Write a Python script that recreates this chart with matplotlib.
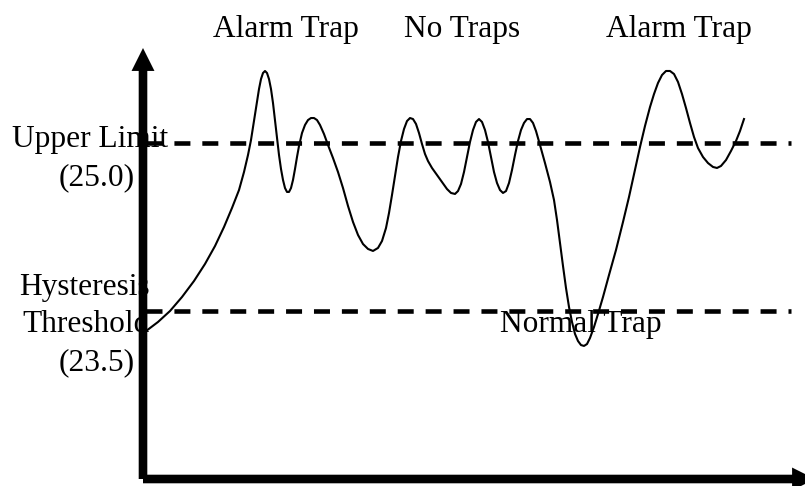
import numpy as np
import matplotlib
matplotlib.use("Agg")
import matplotlib.pyplot as plt
from matplotlib.patches import FancyArrowPatch, ArrowStyle

plt.rcParams['font.family'] = ['Liberation Serif', 'DejaVu Serif']

# temperature trace (time, temperature)
time_pts = [3, 15, 27, 39, 51, 62, 72, 81, 89, 96,
            101, 105, 108, 111, 114, 116, 118, 120, 122, 124,
            126, 128, 130, 132, 134, 136, 138, 140, 142, 144,
            146, 148, 150, 152, 154, 156, 159, 162, 165, 168,
            171, 174, 177, 181, 185, 190, 195, 200, 205, 210,
            215, 220, 225, 230, 235, 239, 243, 246, 249, 252,
            255, 258, 261, 264, 267, 270, 273, 276, 279, 282,
            285, 289, 294, 299, 304, 308, 312, 315, 318, 321,
            324, 327, 330, 333, 336, 339, 342, 345, 348, 351,
            354, 357, 360, 363, 366, 369, 372, 375, 378, 381,
            384, 387, 390, 393, 397, 402, 407, 411, 414, 417,
            420, 423, 426, 429, 432, 435, 438, 441, 444, 447,
            451, 455, 460, 466, 473, 480, 486, 492, 497, 502,
            507, 511, 515, 519, 523, 527, 531, 535, 539, 543,
            547, 551, 555, 560, 565, 570, 574, 578, 583, 588,
            593, 597, 601]
temp_pts = [23.321, 23.402, 23.500, 23.625, 23.768, 23.920, 24.080, 24.250, 24.420, 24.580,
            24.741, 24.893, 25.027, 25.196, 25.366, 25.482, 25.571, 25.625, 25.643, 25.625,
            25.571, 25.482, 25.357, 25.205, 25.045, 24.893, 24.768, 24.670, 24.598, 24.563,
            24.563, 24.598, 24.670, 24.768, 24.875, 24.973, 25.089, 25.161, 25.205, 25.223,
            25.223, 25.205, 25.161, 25.080, 24.982, 24.866, 24.741, 24.598, 24.438, 24.295,
            24.179, 24.098, 24.054, 24.036, 24.063, 24.125, 24.241, 24.375, 24.536, 24.705,
            24.875, 25.018, 25.125, 25.196, 25.223, 25.214, 25.170, 25.089, 24.991, 24.902,
            24.839, 24.777, 24.714, 24.652, 24.589, 24.554, 24.545, 24.571, 24.634, 24.741,
            24.875, 25.009, 25.116, 25.188, 25.214, 25.188, 25.116, 25.009, 24.875, 24.741,
            24.643, 24.580, 24.554, 24.571, 24.643, 24.759, 24.893, 25.018, 25.116, 25.179,
            25.214, 25.214, 25.179, 25.107, 24.982, 24.821, 24.652, 24.491, 24.313, 24.107,
            23.902, 23.705, 23.536, 23.402, 23.295, 23.232, 23.196, 23.188, 23.205, 23.259,
            23.357, 23.473, 23.625, 23.821, 24.045, 24.295, 24.518, 24.759, 24.964, 25.152,
            25.321, 25.437, 25.536, 25.607, 25.643, 25.643, 25.616, 25.545, 25.437, 25.312,
            25.179, 25.054, 24.955, 24.875, 24.821, 24.786, 24.777, 24.795, 24.848, 24.929,
            25.018, 25.107, 25.214]

upper_limit = 25.0
hyst_threshold = 23.5
base_temp = 22.0
line_end = 648

top_labels = ['Alarm Trap', 'No Traps', 'Alarm Trap']
top_label_t = [143, 319.5, 535.5]

fig = plt.figure(figsize=(8.05, 4.86), dpi=100)
ax = fig.add_axes([0, 0, 1, 1])
ax.set_xlim(-143, 662)
ax.set_ylim(21.9375, 26.2768)
ax.axis('off')

fs = 22.6
for lab, t in zip(top_labels, top_label_t):
    ax.text(t, 25.946, lab, fontsize=fs, ha='center', va='baseline', zorder=1)

ax.text(-53, 24.964, 'Upper Limit', fontsize=fs, ha='center', va='baseline', zorder=1)
ax.text(-46, 24.625, '(%.1f)' % upper_limit, fontsize=fs, ha='center', va='baseline', zorder=1)
ax.text(-59, 23.643, 'Hysteresis', fontsize=fs, ha='center', va='baseline', zorder=1)
ax.text(-57, 23.3125, 'Threshold', fontsize=fs, ha='center', va='baseline', zorder=1)
ax.text(-46, 22.973, '(%.1f)' % hyst_threshold, fontsize=fs, ha='center', va='baseline', zorder=1)
ax.text(438, 23.3125, 'Normal Trap', fontsize=fs, ha='center', va='baseline', zorder=1)

# dashed limit lines
for lvl in [upper_limit, hyst_threshold]:
    ax.plot([3, line_end], [lvl, lvl], color='black', lw=3.3,
            dashes=(3.49, 2.6), solid_capstyle='butt', zorder=2)

ax.plot(time_pts, temp_pts, color='black', lw=1.5, solid_joinstyle='round', zorder=3)

# axes arrows
st = ArrowStyle.Simple(head_length=16.5, head_width=16.5, tail_width=6.2)
ax.add_patch(FancyArrowPatch((0, base_temp), (0, 25.848), arrowstyle=st, mutation_scale=1,
                             color='black', lw=0, shrinkA=0, shrinkB=0, zorder=4))
ax.add_patch(FancyArrowPatch((0, base_temp), (672, base_temp), arrowstyle=st, mutation_scale=1,
                             color='black', lw=0, shrinkA=0, shrinkB=0, zorder=4))

fig.savefig('out.png', dpi=100)
